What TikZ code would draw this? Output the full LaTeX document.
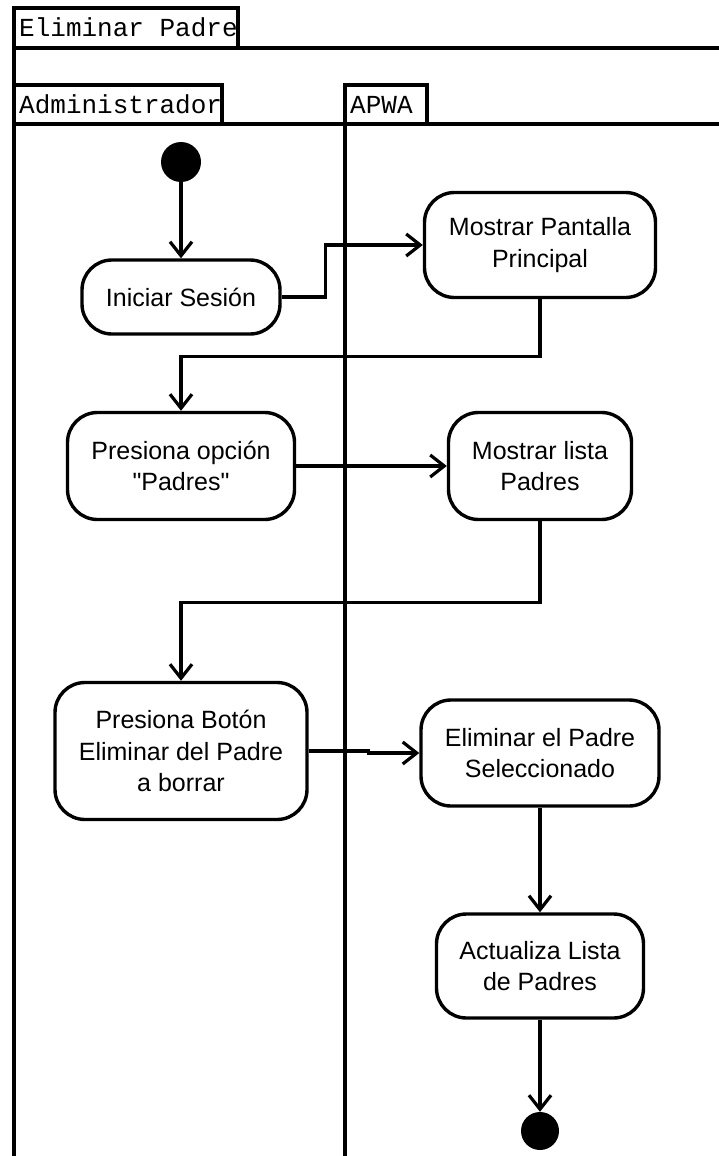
\documentclass[tikz,border=0pt]{standalone}
\usepackage{fontspec}
\setmainfont{Liberation Sans}
\newfontfamily\lanefont{Liberation Mono}
\usetikzlibrary{arrows.meta,positioning}

\begin{document}
\begin{tikzpicture}[x=1pt,y=-1pt,
  activity/.style={draw, line width=3.4pt, rounded corners=30pt, align=center,
    inner sep=0pt, font=\fontsize{25}{31.5}\selectfont},
  flow/.style={line width=3.2pt, -{Straight Barb[length=14pt,width=22pt]}},
  lane/.style={line width=3.4pt},
  lanelabel/.style={anchor=base west, inner sep=0pt, font=\lanefont\fontsize{26}{30}\selectfont},
  dot/.style={circle, fill=black, inner sep=0pt}]

  \useasboundingbox (0,0) rectangle (719,1156);
  % Define dimensions
  \def\W{719}
  \def\H{1156}
  \def\xa{181}
  \def\xb{540}

  % Label lanes
  \node[lanelabel] (pool) at (19,37) {Eliminar Padre};
  \node[lanelabel] (admin) at (19,113) {Administrador};
  \node[lanelabel] (apwa) at (350,113) {APWA};

  % Draw lanes
  \draw[lane] (14,\H) -- (14,8) -- (238,8) -- (238,48);
  \draw[lane] (14,48) -- (\W,48);
  \draw[lane] (14,85) -- (222,85) -- (222,124);
  \draw[lane] (14,124) -- (\W,124);
  \draw[lane] (345,\H) -- (345,85) -- (427,85) -- (427,124);

  % Define activities
  \node[dot, minimum size=40pt] (start) at (\xa,162) {};
  \node[activity, minimum width=198pt, minimum height=74pt] (ini) at (\xa,297) {Iniciar Sesión};
  \node[activity, minimum width=231pt, minimum height=105pt] (mpp) at (\xb,245) {Mostrar Pantalla\\Principal};
  \node[activity, minimum width=227pt, minimum height=107pt] (pop) at (\xa,466) {Presiona opción\\\textquotedbl Padres\textquotedbl};
  \node[activity, minimum width=183pt, minimum height=107pt] (mlp) at (\xb,466) {Mostrar lista\\Padres};
  \node[activity, minimum width=252pt, minimum height=137pt] (pbe) at (\xa,751) {Presiona Botón\\Eliminar del Padre\\a borrar};
  \node[activity, minimum width=238pt, minimum height=106pt] (eps) at (\xb,753) {Eliminar el Padre\\Seleccionado};
  \node[activity, minimum width=207pt, minimum height=104pt] (alp) at (\xb,966) {Actualiza Lista\\de Padres};
  \node[dot, minimum size=38pt] (stop) at (\xb,1131) {};

  % Draw flows
  \draw[flow] (start) -- (ini);
  \draw[flow] (ini.east) -- ++(44,0) |- (mpp.west);
  \draw[flow] (mpp.south) -- ++(0,57) -| (pop.north);
  \draw[flow] (pop) -- (mlp);
  \draw[flow] (mlp.south) -- ++(0,81) -| (pbe.north);
  \draw[flow] (pbe.east) -- ++(60,0) |- (eps.west);
  \draw[flow] (eps) -- (alp);
  \draw[flow] (alp) -- (stop);

\end{tikzpicture}
\end{document}
